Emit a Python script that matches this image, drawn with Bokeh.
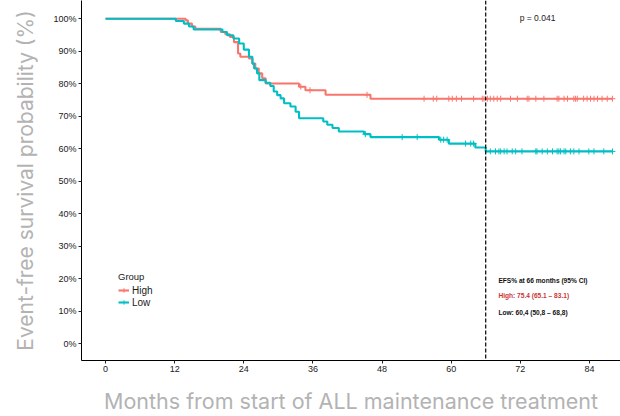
import numpy as np
from bokeh.plotting import figure
from bokeh.models import (Range1d, FixedTicker, PrintfTickFormatter, Span, Label,
                          Legend, LegendItem)
from bokeh.embed import file_html
from bokeh.resources import INLINE

# ---------------- data ----------------
high_time = [0, 13.9, 14.3, 15.0, 15.6, 20.0, 20.8, 21.6, 22.3, 23.0, 23.4, 24.9, 25.5,
             26.0, 26.6, 27.2, 27.8, 33.6, 34.7, 38.2, 46.0]
high_surv = [100, 99.5, 98.5, 97.6, 96.9, 95.9, 95.2, 94.4, 92.8, 89.3, 88.3, 87.8, 86.2,
             84.7, 83.2, 81.7, 80.1, 79.1, 78.0, 76.6, 75.4]
high_end = 88.0
high_censor = [33.9, 35.5, 45.4, 55.3, 56.9, 57.5, 59.6, 60.2, 60.9, 61.8, 63.9, 65.4, 65.7,
               66.3, 66.8, 67.4, 68.0, 68.6, 70.3, 71.5, 73.2, 73.5, 74.7, 76.1, 78.4, 78.7,
               79.6, 80.2, 81.3, 81.6, 81.9, 83.0, 83.6, 84.2, 84.8, 85.4, 86.2, 87.1, 88.0]

low_time = [0, 12.2, 13.6, 14.5, 15.3, 20.3, 21.1, 22.2, 23.2, 24.0, 24.9, 25.5, 25.8, 26.3,
            26.7, 27.8, 28.6, 29.2, 29.8, 30.4, 31.0, 32.1, 33.0, 33.6, 37.8, 38.5, 39.4,
            40.5, 44.9, 46.0, 57.9, 59.6, 64.2, 66.0]
low_surv = [100, 99.3, 98.5, 97.6, 96.7, 95.9, 94.9, 93.9, 92.4, 90.5, 88.3, 86.2, 84.7, 83.2,
            81.1, 80.3, 79.3, 77.6, 76.5, 75.5, 74.0, 73.0, 71.4, 69.4, 68.4, 67.4, 66.4,
            65.3, 64.5, 63.6, 62.8, 61.6, 60.4, 59.2]
low_end = 88.1
low_censor = [45.1, 51.5, 54.1, 58.2, 58.7, 59.3, 62.5, 63.4, 63.9, 66.8, 67.7, 68.3, 68.6,
              69.2, 69.7, 70.6, 71.2, 72.3, 74.7, 74.9, 75.8, 76.7, 77.6, 78.4, 78.7, 79.0,
              79.6, 79.9, 80.7, 81.3, 82.2, 83.9, 84.8, 86.5, 88.0]

group_names = ["High", "Low"]
group_colors = ["#F8766D", "#00BFC4"]
x_ticks = [0, 12, 24, 36, 48, 60, 72, 84]
y_ticks = [0, 10, 20, 30, 40, 50, 60, 70, 80, 90, 100]
landmark = 66
p_text = "p = 0.041"
efs_lines = ["EFS% at 66 months (95% CI)", "High: 75.4 (65.1 \u2013 83.1)",
             "Low: 60,4 (50,8 \u2013 68,8)"]
efs_colors = ["#111111", "#c83737", "#111111"]
x_title = "Months from start of ALL maintenance treatment"
y_title = "Event-free survival probability (%)"


def surv_at(times, surv, t):
    idx = np.searchsorted(np.asarray(times), np.asarray(t), side="right") - 1
    return list(np.asarray(surv)[idx])


# ---------------- figure ----------------
p = figure(width=620, height=416, output_backend="svg", toolbar_location=None,
           x_range=Range1d(-4.17, 89.4), y_range=Range1d(-5.1, 105.6),
           min_border_left=81, min_border_right=0, min_border_top=0,
           min_border_bottom=54)
p.styles = {"position": "absolute", "left": "0px", "top": "0px"}
p.outline_line_color = None
p.xgrid.visible = False
p.ygrid.visible = False
p.background_fill_color = "white"
p.border_fill_color = "white"

for ax in (p.xaxis[0], p.yaxis[0]):
    ax.axis_line_color = "black"
    ax.axis_line_width = 1
    ax.major_tick_line_color = "#222222"
    ax.major_tick_line_width = 1
    ax.major_tick_out = 3
    ax.major_tick_in = 0
    ax.minor_tick_line_color = None
    ax.major_label_text_font = "Liberation Sans"
    ax.major_label_text_font_size = "9px"
    ax.major_label_text_color = "#1a1a1a"
    ax.major_label_standoff = 2
    ax.axis_label_text_font = "Inter"
    ax.axis_label_text_color = "#b3b3b3"
    ax.axis_label_text_font_style = "normal"

p.xaxis.ticker = FixedTicker(ticks=x_ticks)
p.yaxis.ticker = FixedTicker(ticks=y_ticks)
p.yaxis.formatter = PrintfTickFormatter(format="%d%%")
p.xaxis.axis_label = x_title
p.xaxis.axis_label_text_font_size = "21.5px"
p.xaxis.axis_label_standoff = 13
p.yaxis.axis_label = y_title
p.yaxis.axis_label_text_font_size = "21px"
p.yaxis.axis_label_standoff = 12

# curves
renderers = []
for times, surv, end, cens, color in [
        (high_time, high_surv, high_end, high_censor, group_colors[0]),
        (low_time, low_surv, low_end, low_censor, group_colors[1])]:
    xs = list(times) + [end]
    ys = list(surv) + [surv[-1]]
    ln = p.step(x=xs, y=ys, mode="after", line_color=color, line_width=2.1)
    cr = p.scatter(x=cens, y=surv_at(times, surv, cens), marker="cross", size=6,
                   line_color=color, line_width=1)
    renderers.append((ln, cr))

# landmark line
p.add_layout(Span(location=landmark, dimension="height", line_color="black",
                  line_width=1.2, line_dash="4 2"))

# legend
items = [LegendItem(label=name, renderers=list(r)) for name, r in zip(group_names, renderers)]
legend = Legend(items=items, title="Group", location=(37, 52),
                background_fill_alpha=0, border_line_alpha=0, padding=0, margin=0,
                spacing=0, glyph_width=11, glyph_height=12, label_height=12,
                label_standoff=3, title_standoff=2,
                title_text_font="Liberation Sans", title_text_font_size="9.5px",
                title_text_font_style="normal", title_text_color="#1a1a1a",
                label_text_font="Liberation Sans", label_text_font_size="10px",
                label_text_color="#1a1a1a")
p.add_layout(legend)

# p value
p.add_layout(Label(x=71.9, y=100.1, text=p_text, text_font="Liberation Sans",
                   text_font_size="8.5px", text_color="#1a1a1a", text_baseline="middle"))

# EFS annotation
for txt, col, yy in zip(efs_lines, efs_colors, [19.36, 14.77, 9.67]):
    p.add_layout(Label(x=68.2, y=yy, text=txt, text_font="Liberation Sans",
                       text_font_size="6.6px", text_font_style="bold", text_color=col,
                       text_baseline="middle"))

open("out.html", "w").write(file_html(p, INLINE))
